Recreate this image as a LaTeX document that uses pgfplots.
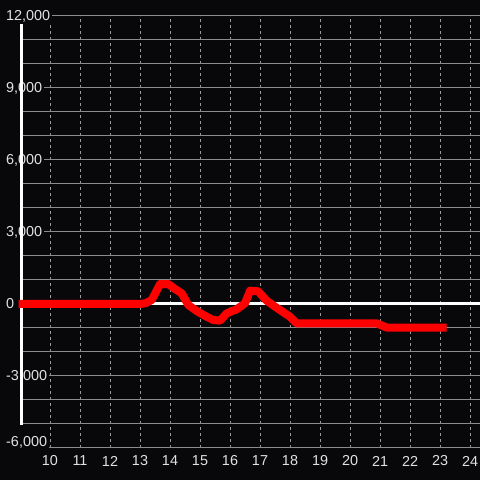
\documentclass[border=0pt]{standalone}
\usepackage{fontspec}
\setmainfont{Liberation Sans}
\usepackage{pgfplots}
\pgfplotsset{compat=1.18}
\definecolor{bg}{RGB}{8,8,10}
\definecolor{gridc}{RGB}{140,140,140}
\definecolor{dashc}{RGB}{155,155,155}
\definecolor{txt}{RGB}{225,225,225}
\begin{document}
\begin{tikzpicture}[x=1bp,y=1bp]
\fill[bg] (0,0) rectangle (480,480);
\begin{axis}[
  at={(20bp,32bp)}, anchor=south west,
  scale only axis, width=460bp, height=432bp,
  xmin=9, xmax=24.3333, ymin=-6000, ymax=12000,
  clip=false,
  scaled ticks=false,
  /pgf/number format/assume math mode=true,
  axis line style={draw=none},
  major tick length=0pt, minor tick length=0pt,
  xtick={10,...,24},
  ytick={-3000,0,3000,6000,9000,12000},
  yticklabels={{-3{,}000},{0},{3{,}000},{6{,}000},{9{,}000},{12{,}000}},
  extra y ticks={-6000},
  extra y tick labels={{-6{,}000}},
  extra y tick style={yticklabel style={yshift=6bp}, grid=major},
  minor ytick={-5000,-4000,-2000,-1000,1000,2000,4000,5000,7000,8000,10000,11000},
  xmajorgrids, ymajorgrids, yminorgrids,
  major x grid style={dashc, dash pattern=on 3bp off 3bp, line width=0.8bp},
  major y grid style={gridc, line width=1bp},
  minor y grid style={gridc, line width=1bp},
  xticklabel style={font=\fontsize{14.4bp}{16bp}\selectfont, text=txt, anchor=center, yshift=-13bp},
  yticklabel style={font=\fontsize{14.4bp}{16bp}\selectfont, text=txt, anchor=west, xshift=-16bp, fill=bg, inner xsep=2bp, inner ysep=1bp},
]
\addplot[white, line width=3bp, forget plot] coordinates {(9.05,-5040) (9.05,11670)};
\addplot[white, line width=3bp, forget plot] coordinates {(9,0) (24.3333,0)};
\addplot[red, line width=8bp, line join=round, line cap=butt] coordinates {
(8.95,0) (13.0,0) (13.2,40) (13.39,167) (13.67,833) (13.94,833) (14.15,640) (14.39,444)
(14.61,-42) (14.9,-300) (15.22,-528) (15.44,-667) (15.67,-694) (15.89,-389)
(16.22,-222) (16.5,28) (16.67,556) (16.94,528) (17.22,139) (17.5,-111)
(17.83,-389) (18.0,-528) (18.22,-806) (20.89,-806) (21.22,-980) (23.22,-980)
};
\end{axis}
\pgfresetboundingbox
\path[use as bounding box] (0,0) rectangle (480,480);
\end{tikzpicture}
\end{document}
